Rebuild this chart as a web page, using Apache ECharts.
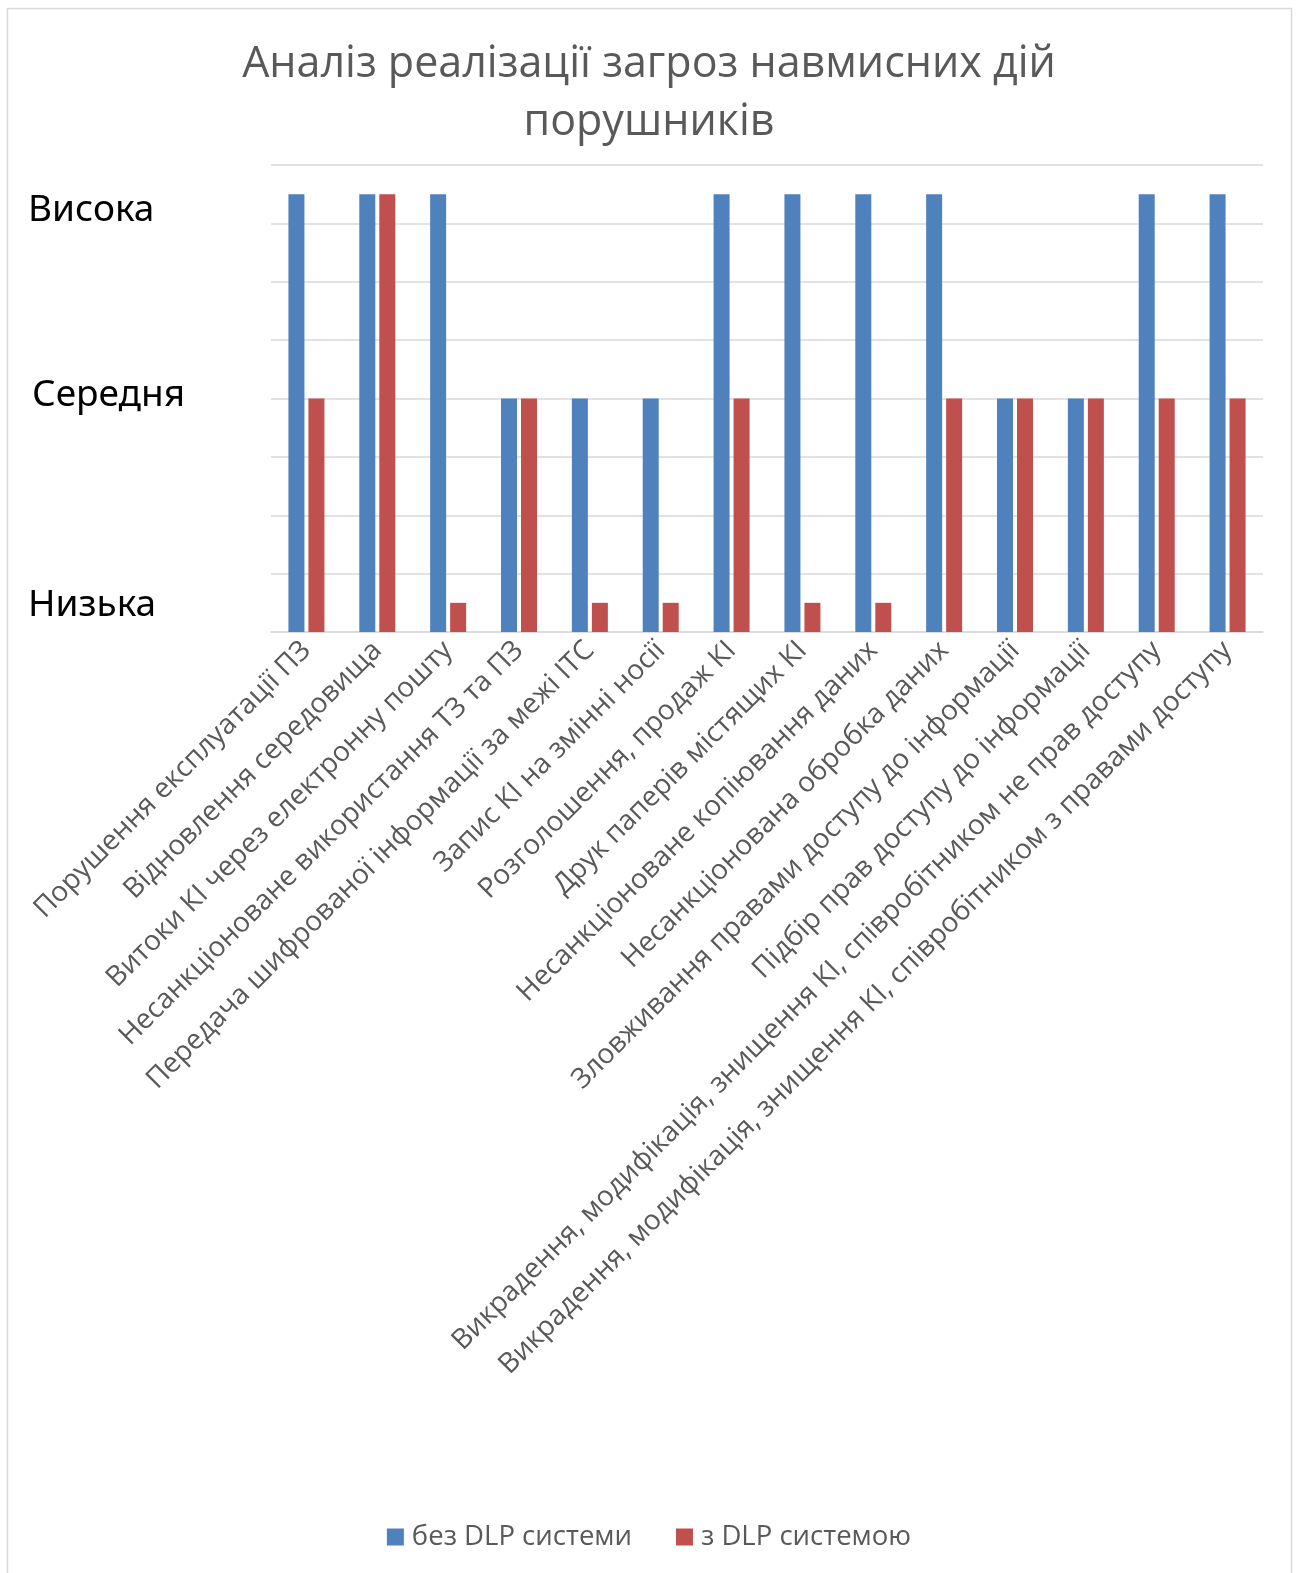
<!DOCTYPE html>
<html>
<head>
<meta charset="utf-8">
<script src="https://cdn.jsdelivr.net/npm/echarts@6/dist/echarts.min.js"></script>
<style>
  html, body { margin: 0; padding: 0; background: #fff; }
  #grafico { width: 1298px; height: 1573px; }
</style>
</head>
<body>
<div id="grafico"></div>
<script>
var categorias = [
    'Порушення експлуатації ПЗ',
    'Відновлення середовища',
    'Витоки КІ через електронну пошту',
    'Несанкціоноване використання ТЗ та ПЗ',
    'Передача шифрованої інформації за межі ІТС',
    'Запис КІ на змінні носії',
    'Розголошення, продаж КІ',
    'Друк паперів містящих КІ',
    'Несанкціоноване копіювання даних',
    'Несанкціонована обробка даних',
    'Зловживання правами доступу до інформації',
    'Підбір прав доступу до інформації',
    'Викрадення, модифікація, знищення КІ, співробітником не прав доступу',
    'Викрадення, модифікація, знищення КІ, співробітником з правами доступу'
];
var bezDLP = [7.5, 7.5, 7.5, 4, 4, 4, 7.5, 7.5, 7.5, 7.5, 4, 4, 7.5, 7.5];
var zDLP = [4, 7.5, 0.5, 4, 0.5, 0.5, 4, 0.5, 0.5, 4, 4, 4, 4, 4];
var leyenda = ['без DLP системи', 'з DLP системою'];
// text levels shown on the y axis and the value where each one sits
var niveles = ['Низька', 'Середня', 'Висока'];
var nivelesValor = [0.45, 4.05, 7.22];

var fuente = '"Open Sans", "Noto Sans", sans-serif';
var myChart = echarts.init(document.getElementById('grafico'));

var option = {
    backgroundColor: '#fff',
    animation: false,
    color: ['#4F81BD', '#C0504D'],
    title: {
        text: 'Аналіз реалізації загроз навмисних дій\nпорушників',
        left: 'center',
        top: 31,
        textStyle: {
            fontFamily: fuente,
            fontWeight: 'normal',
            fontSize: 43,
            lineHeight: 58,
            color: '#595959'
        }
    },
    graphic: [{
        type: 'rect',
        shape: { x: 7.5, y: 8.5, width: 1284, height: 1600 },
        style: { fill: 'none', stroke: '#d9d9d9', lineWidth: 1.5 },
        silent: true
    }],
    legend: {
        data: leyenda,
        left: 'center',
        top: 1518,
        icon: 'rect',
        itemWidth: 17,
        itemHeight: 17,
        itemGap: 44,
        textStyle: {
            fontFamily: fuente,
            fontSize: 27.5,
            color: '#595959',
            padding: [0, 0, 0, 3]
        }
    },
    grid: {
        left: 271,
        right: 35,
        top: 165,
        bottom: 941,
        containLabel: false
    },
    xAxis: {
        type: 'category',
        data: categorias,
        axisTick: { show: false },
        axisLine: {
            lineStyle: { color: '#d9d9d9', width: 1.5 }
        },
        axisLabel: {
            interval: 0,
            rotate: 45,
            margin: 14,
            fontFamily: fuente,
            fontSize: 28,
            color: '#595959'
        }
    },
    yAxis: {
        type: 'value',
        min: 0,
        max: 8,
        interval: 1,
        axisLine: { show: false },
        axisTick: { show: false },
        splitLine: {
            lineStyle: { color: '#d9d9d9', width: 1.5 }
        },
        axisLabel: {
            customValues: nivelesValor,
            align: 'left',
            margin: 243,
            fontFamily: '"Noto Sans", sans-serif',
            fontSize: 37,
            color: '#000',
            formatter: function (v) {
                var i = nivelesValor.indexOf(v);
                if (i === 1) {
                    return '{m|' + niveles[i] + '}';
                }
                return i >= 0 ? niveles[i] : '';
            },
            rich: {
                m: {
                    fontFamily: '"Noto Sans", sans-serif',
                    fontSize: 37,
                    color: '#000',
                    padding: [0, 0, 0, 4]
                }
            }
        }
    },
    series: [{
        name: leyenda[0],
        type: 'bar',
        data: bezDLP,
        barWidth: 16,
        barGap: '25%'
    }, {
        name: leyenda[1],
        type: 'bar',
        data: zDLP,
        barWidth: 16,
        barGap: '25%'
    }]
};
myChart.setOption(option, true);
</script>
</body>
</html>
